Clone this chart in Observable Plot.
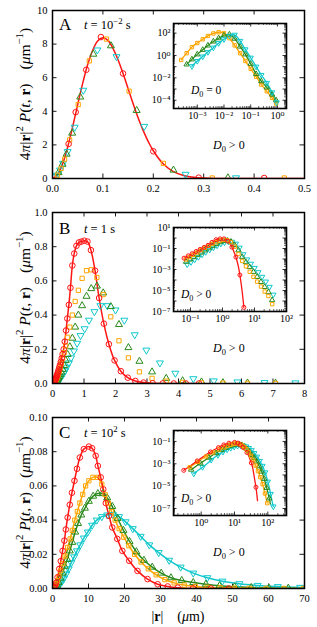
<!DOCTYPE html>
<html><head><meta charset="utf-8">
<script src="https://cdn.jsdelivr.net/npm/d3@7"></script>
<script src="https://cdn.jsdelivr.net/npm/@observablehq/plot@0.6"></script>
<style>
html,body{margin:0;padding:0;background:#fff;}
#fig{position:relative;width:317px;height:627px;overflow:hidden;}
#fig svg{position:absolute;overflow:visible;}
</style></head><body><div id="fig"></div>
<script>
// ---------------- DATA ----------------
// Panel A (t = 1e-2 s), main, D0 > 0
const aRedLine = [[0,0],[0.01,0.22],[0.02,0.87],[0.03,1.86],[0.04,3.08],[0.05,4.4],[0.06,5.68],[0.07,6.8],[0.08,7.65],[0.09,8.2],[0.1,8.38],[0.11,8.22],[0.12,7.75],[0.13,7.07],[0.14,6.25],[0.15,5.35],[0.16,4.45],[0.17,3.6],[0.18,2.85],[0.19,2.2],[0.2,1.65],[0.22,0.86],[0.24,0.41],[0.26,0.18],[0.28,0.07],[0.3,0.025],[0.33,0.005],[0.37,0],[0.5,0]];
const aRed = [[0.032,2.06],[0.046,3.95],[0.067,6.47],[0.096,8.42],[0.14,6.25],[0.2,1.62],[0.29,0.05],[0.42,0.03]];
const aOrange = [[0.01,0.2],[0.017,0.6],[0.024,1.15],[0.034,2.3],[0.051,4.4],[0.073,7.0],[0.107,8.3],[0.152,5.2],[0.22,0.9],[0.317,0.03],[0.46,0.03]];
const aGreen = [[0.012,0.35],[0.02,0.85],[0.028,1.45],[0.039,2.7],[0.055,4.85],[0.081,7.4],[0.116,7.9],[0.167,4.05],[0.24,0.5],[0.348,0.04]];
const aCyan = [[0.004,0.1],[0.009,0.2],[0.015,0.5],[0.021,0.9],[0.03,1.6],[0.044,3.05],[0.061,5.25],[0.089,7.65],[0.127,7.25],[0.182,3.1],[0.264,0.25],[0.364,0.04]];
// Panel A inset, D0 = 0 (log-log)
const aiOrange = [[2.5e-4,0.4],[4e-4,1.6],[6.3e-4,5.6],[1e-3,13],[1.6e-3,28],[2.5e-3,56],[4e-3,93],[6.3e-3,120],[0.01,100],[0.016,35],[0.025,8],[0.04,1.6],[0.063,0.32],[0.1,0.063],[0.16,0.0126],[0.25,0.0025],[0.4,6.3e-4],[0.63,1.6e-4],[0.89,5e-5]];
const aiGreen = [[4e-4,0.16],[6.3e-4,0.45],[1e-3,1.26],[1.6e-3,3.2],[2.5e-3,7.9],[4e-3,18],[6.3e-3,35],[0.01,63],[0.016,76],[0.025,32],[0.04,6.3],[0.063,1.26],[0.1,0.18],[0.16,0.022],[0.25,0.005],[0.4,0.0014],[0.63,3.2e-4],[0.89,1e-4]];
const aiCyan = [[6.3e-4,0.11],[1e-3,0.32],[1.6e-3,0.8],[2.5e-3,2],[4e-3,5],[6.3e-3,12.6],[0.01,28],[0.016,56],[0.025,71],[0.04,20],[0.063,3.5],[0.1,0.63],[0.16,0.1],[0.25,0.018],[0.4,0.0035],[0.63,5e-4],[0.93,6.3e-5]];
// Panel B (t = 1 s), D0 > 0 (main and inset)
const bRed = [[0.063,0.012],[0.07,0.014],[0.077,0.017],[0.085,0.02],[0.093,0.023],[0.102,0.027],[0.113,0.032],[0.124,0.038],[0.136,0.045],[0.15,0.052],[0.165,0.061],[0.182,0.071],[0.2,0.082],[0.22,0.096],[0.242,0.11],[0.266,0.127],[0.293,0.148],[0.322,0.172],[0.354,0.2],[0.39,0.245],[0.43,0.31],[0.47,0.38],[0.52,0.46],[0.57,0.56],[0.63,0.69],[0.69,0.76],[0.76,0.805],[0.84,0.825],[0.92,0.83],[1.01,0.835],[1.11,0.83],[1.22,0.78],[1.35,0.66],[1.48,0.5],[1.63,0.35],[1.79,0.23],[1.97,0.135],[2.17,0.072],[2.39,0.034],[2.63,0.015],[2.89,0.0055],[3.18,0.0016],[3.5,3e-4],[3.85,4e-5],[4.23,4e-6],[4.65,2.5e-7]];
const bOrange = [[0.073,0.009],[0.084,0.0115],[0.096,0.015],[0.109,0.019],[0.125,0.025],[0.143,0.032],[0.164,0.042],[0.187,0.054],[0.214,0.07],[0.245,0.09],[0.28,0.115],[0.32,0.145],[0.37,0.18],[0.42,0.22],[0.48,0.27],[0.55,0.33],[0.63,0.4],[0.72,0.48],[0.82,0.545],[0.94,0.615],[1.08,0.66],[1.23,0.665],[1.41,0.62],[1.61,0.52],[1.85,0.39],[2.11,0.25],[2.41,0.15],[2.76,0.068],[3.16,0.03],[3.61,0.014],[4.13,0.0065],[4.73,0.0035],[5.41,0.002],[6.19,0.0011],[7.08,6e-4],[8.1,3.5e-4],[9.3,2e-4],[10.6,1.2e-4],[12.1,7e-5],[13.9,4e-5],[15.9,2.4e-5],[18.2,1.4e-5],[20.8,8e-6],[23.8,5e-6],[27.2,3e-6],[31.1,1.5e-6],[35.6,5e-7]];
const bGreen = [[0.073,0.0055],[0.084,0.007],[0.096,0.009],[0.109,0.0115],[0.125,0.015],[0.143,0.019],[0.164,0.025],[0.187,0.032],[0.214,0.041],[0.245,0.052],[0.28,0.066],[0.32,0.083],[0.37,0.105],[0.42,0.135],[0.48,0.17],[0.55,0.215],[0.63,0.265],[0.72,0.33],[0.82,0.4],[0.94,0.455],[1.08,0.51],[1.23,0.555],[1.41,0.57],[1.61,0.53],[1.85,0.45],[2.11,0.345],[2.41,0.21],[2.76,0.13],[3.16,0.068],[3.61,0.03],[4.13,0.016],[4.73,0.009],[5.41,0.005],[6.19,0.003],[7.08,0.0017],[8.1,0.001],[9.3,6e-4],[10.6,3.5e-4],[12.1,2e-4],[13.9,1.1e-4],[15.9,6.5e-5],[18.2,3.8e-5],[20.8,2.2e-5],[23.8,1.3e-5],[27.2,7e-6],[31.1,3.5e-6],[35.6,1.2e-6]];
const bCyan = [[0.079,0.003],[0.091,0.004],[0.104,0.005],[0.118,0.0065],[0.135,0.0085],[0.154,0.011],[0.177,0.015],[0.202,0.02],[0.231,0.026],[0.265,0.034],[0.3,0.045],[0.35,0.058],[0.4,0.075],[0.45,0.095],[0.52,0.12],[0.59,0.15],[0.68,0.19],[0.78,0.235],[0.89,0.28],[1.02,0.32],[1.16,0.37],[1.33,0.42],[1.52,0.455],[1.74,0.455],[2.0,0.43],[2.28,0.37],[2.61,0.285],[2.98,0.195],[3.41,0.12],[3.9,0.06],[4.47,0.028],[5.12,0.015],[5.87,0.009],[6.73,0.0055],[7.71,0.0035],[8.8,0.0022],[10.1,0.0014],[11.5,9e-4],[13.2,5.5e-4],[15.1,3.3e-4],[17.3,2e-4],[19.8,1.2e-4],[22.6,7e-5],[25.9,4e-5],[29.6,2.2e-5],[33.9,1.1e-5],[38.8,4e-6]];
// Panel C (t = 1e2 s), D0 > 0 (main and inset)
const cRed = [[0.3,2.6e-4],[0.4,4.6e-4],[0.55,9e-4],[0.76,0.0018],[1.0,0.0033],[1.4,0.0065],[1.9,0.0115],[2.3,0.016],[2.8,0.022],[3.3,0.028],[3.7,0.0345],[4.2,0.0415],[4.8,0.049],[5.4,0.056],[6.1,0.063],[6.8,0.07],[7.6,0.0766],[8.7,0.0815],[10.1,0.083],[11.0,0.082],[12.0,0.0776],[12.6,0.0717],[13.4,0.065],[14.1,0.058],[14.8,0.05],[15.7,0.0425],[16.6,0.0357],[18.0,0.029],[19.4,0.022],[21.3,0.0162],[23.6,0.0103],[26.4,0.0055],[29.2,0.0025],[32,0.0012],[34.8,5e-4],[39,7e-5],[44,8e-6],[49,5e-7]];
const cOrange = [[0.45,4.8e-4],[0.6,8.5e-4],[0.8,0.0015],[1.05,0.0027],[1.4,0.0045],[1.8,0.007],[2.3,0.0105],[2.9,0.0145],[3.5,0.019],[4.2,0.024],[4.9,0.029],[5.5,0.034],[6.2,0.04],[6.9,0.045],[7.6,0.05],[8.4,0.055],[9.2,0.06],[10.1,0.063],[11.2,0.065],[12.5,0.065],[13.7,0.061],[14.6,0.055],[15.5,0.05],[16.4,0.045],[17.4,0.04],[18.5,0.035],[19.8,0.03],[21.2,0.025],[22.8,0.02],[24.6,0.0155],[26.6,0.0115],[28.8,0.008],[31.2,0.0052],[33.8,0.0033],[36.6,0.002],[39.7,0.0012],[43,7e-4],[46.6,4e-4],[50.5,2.2e-4],[54.7,1.2e-4],[59.3,6.3e-5],[64.3,3.2e-5],[69.7,1.5e-5],[75.5,6e-6],[81.8,2.2e-6],[88.6,8e-7],[96,3e-7]];
const cGreen = [[0.5,3e-4],[0.7,6e-4],[0.95,0.0011],[1.3,0.0021],[1.7,0.0036],[2.2,0.006],[2.8,0.009],[3.4,0.013],[4.1,0.017],[4.8,0.022],[5.5,0.027],[6.3,0.033],[7.1,0.038],[8.0,0.043],[9.0,0.047],[10.1,0.051],[11.3,0.054],[12.6,0.0555],[13.9,0.0555],[15.2,0.053],[16.6,0.048],[18.1,0.041],[19.7,0.034],[21.4,0.0275],[23.3,0.0215],[25.4,0.0165],[27.7,0.0125],[30.2,0.009],[32.9,0.0063],[35.9,0.0047],[39.1,0.0035],[42.6,0.0025],[46.4,0.0016],[50.6,0.001],[55.2,6e-4],[60.1,3.5e-4],[65.5,2e-4],[71.4,1e-4],[77.8,4.5e-5],[84.8,1.8e-5],[92.5,7e-6],[100.8,2.5e-6],[110,8e-7],[120,2.5e-7]];
const cCyan = [[0.6,1.3e-4],[0.8,2.5e-4],[1.1,5e-4],[1.5,0.001],[2.0,0.0022],[2.6,0.004],[3.2,0.006],[3.8,0.0085],[4.5,0.0115],[5.2,0.015],[6.0,0.0185],[6.8,0.022],[7.7,0.0255],[8.7,0.0295],[9.8,0.033],[11.0,0.037],[12.3,0.04],[13.7,0.042],[15.2,0.043],[16.8,0.0432],[18.5,0.042],[20.3,0.039],[22.3,0.035],[24.5,0.0305],[26.9,0.0255],[29.5,0.021],[32.4,0.0165],[35.6,0.0125],[39.1,0.009],[43,0.0063],[47.2,0.0043],[51.9,0.0028],[57,0.0018],[62.6,0.0011],[68.8,6.5e-4],[75.6,3.5e-4],[83,1.7e-4],[91.2,7e-5],[100,2.5e-5],[110,8e-6],[121,2e-6],[133,5e-7],[146,1.5e-7]];
// Tick values
const aXTicks = [0,0.1,0.2,0.3,0.4,0.5], aYTicks = [0,2,4,6,8,10];
const bXTicks = [0,1,2,3,4,5,6,7,8], bYTicks = [0,0.2,0.4,0.6,0.8,1.0];
const cXTicks = [0,10,20,30,40,50,60,70], cYTicks = [0,0.02,0.04,0.06,0.08,0.10];
const aiXTicks = [1e-3,1e-2,1e-1,1], aiYTicks = [1e2,1,1e-2,1e-4];
const biXTicks = [1e-1,1,1e1,1e2], biYTicks = [1e1,1e-1,1e-3,1e-5,1e-7];
const ciXTicks = [1,1e1,1e2], ciYTicks = [1e-1,1e-3,1e-5,1e-7];
// Texts
const panelLetters = ["A","B","C"];
const timeLabels = [[["t",{i:1}]," = 10",["−2",{sup:1}]," s"],[["t",{i:1}]," = 1 s"],[["t",{i:1}]," = 10",["2",{sup:1}]," s"]];

// ---------------- DRAWING ----------------
const FONT = '"Liberation Serif","DejaVu Serif",serif';
const COLORS = {red:"#ff1414", orange:"#ffa500", green:"#2a8a1c", cyan:"#10c8cc"};
const triangleDown = {draw(context, size) {
  const y = -Math.sqrt(size / (Math.sqrt(3) * 3));
  context.moveTo(0, -y * 2);
  context.lineTo(-Math.sqrt(3) * y, y);
  context.lineTo(Math.sqrt(3) * y, y);
  context.closePath();
}};
const SYMBOL = {red:"circle", orange:"square", green:"triangle", cyan:triangleDown};
const RMAIN = {red:2.8, orange:2.4, green:2.6, cyan:2.6};
const RINSET = {red:2.0, orange:1.9, green:2.0, cyan:2.0};
const toObj = arr => arr.map(([x, y]) => ({x, y}));
const fig = document.getElementById("fig");
function place(el, left, top) { el.style.left = left + "px"; el.style.top = top + "px"; fig.appendChild(el); }

function rich(svg, x, y, parts, o = {}) {
  const size = o.size || 12;
  const t = d3.select(svg).append("text").attr("x", x).attr("y", y)
    .attr("font-size", size).attr("text-anchor", o.anchor || "start").attr("fill", "black")
    .style("font-family", FONT).style("white-space", "pre");
  if (o.rotate) t.attr("transform", `rotate(${o.rotate} ${x} ${y})`);
  let shift = 0;
  for (const p of parts) {
    const [s, st = {}] = Array.isArray(p) ? p : [p];
    const ts = t.append("tspan").text(s);
    const target = st.sup ? -size * 0.42 : st.sub ? size * 0.28 : 0;
    const dy = target - shift; shift = target;
    if (dy) ts.attr("dy", dy);
    if (st.sup || st.sub) ts.attr("font-size", size * 0.7);
    if (st.i) ts.attr("font-style", "italic");
    if (st.b) ts.attr("font-weight", "bold");
    if (st.dx) ts.attr("dx", st.dx);
  }
}

function edgeTicks(values, axis, fw, fh, len, sw) {
  const o = {stroke: "black", strokeWidth: sw || 0.9};
  if (axis === "x") return [
    Plot.ruleX(values, {x: d => d, insetTop: fh - len, ...o}),
    Plot.ruleX(values, {x: d => d, insetBottom: fh - len, ...o})];
  return [
    Plot.ruleY(values, {y: d => d, insetRight: fw - len, ...o}),
    Plot.ruleY(values, {y: d => d, insetLeft: fw - len, ...o})];
}

function mainPanel(c) {
  const ml = 52, mr = 13;
  const fw = 317 - ml - mr, fh = c.height - c.mt - c.mb;
  const marks = [
    ...edgeTicks(c.xTicks, "x", fw, fh, 4.5), ...edgeTicks(c.yTicks, "y", fw, fh, 4.5),
    Plot.axisX(c.xTicks, {tickSize: 0, tickPadding: 6, tickFormat: c.xFmt, label: null, fontSize: 10.5}),
    Plot.axisY(c.yTicks, {tickSize: 0, tickPadding: 5, tickFormat: c.yFmt, label: null, fontSize: 10.5})
  ];
  for (const [key, data] of c.lines) marks.push(Plot.line(toObj(data), {x: "x", y: "y", stroke: COLORS[key], strokeWidth: 1.5, curve: "catmull-rom", clip: true}));
  for (const [key, data] of c.pts) marks.push(Plot.dot(toObj(data), {x: "x", y: "y", symbol: SYMBOL[key], r: RMAIN[key], stroke: COLORS[key], strokeWidth: 1, fill: "none", clip: true}));
  marks.push(Plot.frame({stroke: "black", strokeWidth: 1.5}));
  const svg = Plot.plot({width: 317, height: c.height, marginLeft: ml, marginRight: mr, marginTop: c.mt, marginBottom: c.mb,
    x: {domain: c.xDomain}, y: {domain: c.yDomain},
    style: {fontFamily: FONT, fontSize: "10.5px", color: "black", background: "transparent", overflow: "visible"}, marks});
  place(svg, 0, c.top);
  const T = c.top;
  rich(svg, 59, c.letterY - T, [c.letter], {size: 17});
  rich(svg, 84, c.letterY - 1 - T, c.time, {size: 12.5});
  rich(svg, 213, c.dY - T, [["D", {i: 1}], ["0", {sub: 1}], " > 0"], {size: 12});
  rich(svg, 30, (c.top + c.mt + c.top + c.height - c.mb) / 2 - T,
    ["4", ["π", {i: 1}], "|", ["r", {b: 1}], "|", ["2", {sup: 1}], " ", ["P", {i: 1}], "(", ["t", {i: 1}], ", ", ["r", {b: 1}], ")", ["(", {dx: 14}], ["μ", {i: 1}], "m", ["−1", {sup: 1}], ")"],
    {size: 15.5, anchor: "middle", rotate: -90});
  return svg;
}

const SUP = {"-": "⁻", "0": "⁰", "1": "¹", "2": "²", "3": "³", "4": "⁴", "5": "⁵", "6": "⁶", "7": "⁷", "8": "⁸", "9": "⁹"};
const fmtPow = d => "10" + String(Math.round(Math.log10(d))).replace(/./g, ch => SUP[ch]);

function logMinor(domain, major) {
  const lo = Math.min(...domain), hi = Math.max(...domain);
  const dec = [], minor = [];
  for (let e = Math.floor(Math.log10(lo)); e <= Math.ceil(Math.log10(hi)); e++) {
    for (let k = 1; k < 10; k++) {
      const v = k * Math.pow(10, e);
      if (v < lo * 0.999 || v > hi * 1.001) continue;
      if (major.some(m => Math.abs(m / v - 1) < 1e-6)) continue;
      (k === 1 ? dec : minor).push(v);
    }
  }
  return {dec, minor};
}

function inset(c) {
  const ml = 38, mr = 8, mt = 8, mb = 16;
  const fw = c.fw, fh = c.fh;
  const mx = logMinor(c.xDomain, c.xTicks), my = logMinor(c.yDomain, c.yTicks);
  const marks = [
    Plot.frame({fill: "white", stroke: "none"}),
    ...edgeTicks([...c.xTicks, ...mx.dec], "x", fw, fh, 3.5, 0.8), ...edgeTicks(mx.minor, "x", fw, fh, 2, 0.6),
    ...edgeTicks([...c.yTicks, ...my.dec], "y", fw, fh, 3.5, 0.8), ...edgeTicks(my.minor, "y", fw, fh, 2, 0.6),
    Plot.axisX(c.xTicks, {tickSize: 0, tickPadding: 3, tickFormat: fmtPow, label: null, fontSize: 10}),
    Plot.axisY(c.yTicks, {tickSize: 0, tickPadding: 3, tickFormat: fmtPow, label: null, fontSize: 10})
  ];
  for (const s of c.series) if (s.line) marks.push(Plot.line(toObj(s.data), {x: "x", y: "y", stroke: COLORS[s.key], strokeWidth: 1.3, curve: "catmull-rom", clip: true}));
  for (const s of c.series) marks.push(Plot.dot(toObj(s.data).filter((d, i) => i % s.every === 0), {x: "x", y: "y", symbol: SYMBOL[s.key], r: RINSET[s.key], stroke: COLORS[s.key], strokeWidth: 1, fill: "none", clip: true}));
  marks.push(Plot.frame({stroke: "black", strokeWidth: 1.6}));
  const svg = Plot.plot({width: fw + ml + mr, height: fh + mt + mb, marginLeft: ml, marginRight: mr, marginTop: mt, marginBottom: mb,
    x: {type: "log", domain: c.xDomain}, y: {type: "log", domain: c.yDomain},
    style: {fontFamily: FONT, fontSize: "10px", color: "black", background: "transparent", overflow: "visible"}, marks});
  place(svg, c.left - ml, c.top - mt);
  rich(svg, c.label[0] - (c.left - ml), c.label[1] - (c.top - mt), c.labelParts, {size: 11.5});
  return svg;
}

const fmt1 = d3.format(".1f"), fmt2 = d3.format(".2f"), fmt0 = d3.format("d");

// Panel A
mainPanel({top: 0, height: 200, mt: 10, mb: 22, xDomain: [0, 0.5], yDomain: [0, 10], xTicks: aXTicks, yTicks: aYTicks, xFmt: fmt1, yFmt: fmt0,
  lines: [["red", aRedLine]], pts: [["cyan", aCyan], ["green", aGreen], ["orange", aOrange], ["red", aRed]],
  letter: panelLetters[0], letterY: 30, time: timeLabels[0], dY: 149});
inset({left: 173, top: 23, fw: 113, fh: 85, xDomain: [Math.pow(10, -3.89), Math.pow(10, 0.34)], yDomain: [Math.pow(10, -4.74), Math.pow(10, 2.86)],
  xTicks: aiXTicks, yTicks: aiYTicks,
  series: [{key: "orange", data: aiOrange, line: true, every: 1}, {key: "green", data: aiGreen, line: true, every: 1}, {key: "cyan", data: aiCyan, line: true, every: 1}],
  label: [191, 94], labelParts: [["D", {i: 1}], ["0", {sub: 1}], " = 0"]});

// Panel B
mainPanel({top: 200, height: 205, mt: 12, mb: 22, xDomain: [0, 8], yDomain: [0, 1], xTicks: bXTicks, yTicks: bYTicks, xFmt: fmt0, yFmt: fmt1,
  lines: [["red", bRed]], pts: [["cyan", bCyan], ["green", bGreen], ["orange", bOrange], ["red", bRed]],
  letter: panelLetters[1], letterY: 234, time: timeLabels[1], dY: 352});
inset({left: 173, top: 227, fw: 113, fh: 84, xDomain: [Math.pow(10, -1.53), 100], yDomain: [1e-7, 10],
  xTicks: biXTicks, yTicks: biYTicks,
  series: [{key: "cyan", data: bCyan, line: false, every: 2}, {key: "green", data: bGreen, line: false, every: 2}, {key: "orange", data: bOrange, line: false, every: 2}, {key: "red", data: bRed, line: true, every: 3}],
  label: [181, 298], labelParts: [["D", {i: 1}], ["0", {sub: 1}], " > 0"]});

// Panel C
const svgC = mainPanel({top: 405, height: 222, mt: 12, mb: 39, xDomain: [0, 70], yDomain: [0, 0.1], xTicks: cXTicks, yTicks: cYTicks, xFmt: fmt0, yFmt: fmt2,
  lines: [["cyan", cCyan], ["green", cGreen], ["orange", cOrange], ["red", cRed]], pts: [["cyan", cCyan], ["green", cGreen], ["orange", cOrange], ["red", cRed]],
  letter: panelLetters[2], letterY: 438, time: timeLabels[2], dY: 556});
inset({left: 173, top: 430, fw: 113, fh: 85, xDomain: [Math.pow(10, -0.83), Math.pow(10, 2.56)], yDomain: [Math.pow(10, -7.63), Math.pow(10, -0.02)],
  xTicks: ciXTicks, yTicks: ciYTicks,
  series: [{key: "cyan", data: cCyan, line: true, every: 2}, {key: "green", data: cGreen, line: true, every: 2}, {key: "orange", data: cOrange, line: true, every: 2}, {key: "red", data: cRed, line: true, every: 3}],
  label: [181, 502], labelParts: [["D", {i: 1}], ["0", {sub: 1}], " > 0"]});
rich(svgC, 178, 621 - 405, ["|", ["r", {b: 1}], "|", ["(", {dx: 14}], ["μ", {i: 1}], "m)"], {size: 14, anchor: "middle"});
</script></body></html>
